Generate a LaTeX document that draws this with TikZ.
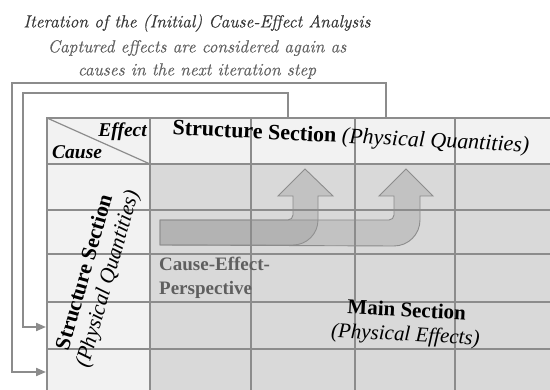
\documentclass[tikz,border=0pt]{standalone}
\usepackage{fontspec}
\setmainfont{Liberation Serif}
\newfontfamily\titlefont[FakeBold=0.5]{Latin Modern Roman}
\usetikzlibrary{arrows.meta}
\definecolor{hdr}{HTML}{F2F2F2}
\definecolor{body}{HTML}{D9D9D9}
\definecolor{grid}{HTML}{8C8C8C}
\definecolor{loop}{HTML}{8C8C8C}
\definecolor{persp}{HTML}{5F5F5F}
\begin{document}
\begin{tikzpicture}[x=1pt,y=-1pt,
  gridline/.style={draw=grid,line width=1.2pt},
  loopline/.style={draw=loop,line width=2pt,-{Triangle[length=10pt,width=8pt]}},
  bigarrow/.style={draw=black!45,line width=0.9pt,fill=black!40,fill opacity=0.35},
  titletxt/.style={font=\titlefont\itshape\fontsize{17.5}{20}\selectfont,inner sep=0pt},
]
\useasboundingbox (0,0) rectangle (550,390);
\begin{scope}
\clip (0,0) rectangle (550,390);
% fills
\fill[hdr] (47,118) rectangle (560,164);
\fill[hdr] (47,164) rectangle (150,400);
\fill[body] (150,164) rectangle (560,400);
% big arrows
\draw[bigarrow] (160,245) -- (160,220) -- (288,220) arc[start angle=90,end angle=0,radius=5]
  -- (293,196) -- (278,196) -- (305,169) -- (333,196) -- (318,196) -- (318,220)
  arc[start angle=0,end angle=90,radius=25] -- cycle;
\draw[bigarrow] (160,245) -- (160,220) -- (389,220) arc[start angle=90,end angle=0,radius=5]
  -- (394,196) -- (379,196) -- (406,169) -- (433,196) -- (420,196) -- (420,220)
  arc[start angle=0,end angle=90,radius=26] -- cycle;
% grid
\foreach \x in {150,251,355,455} \draw[gridline] (\x,118) -- (\x,400);
\foreach \y in {164,210,254,302,349} \draw[gridline] (47,\y) -- (560,\y);
\draw[gridline] (560,118) -- (47,118) -- (47,400);
\draw[gridline] (47,118) -- (150,164);
\end{scope}
% corner labels
\node[font=\bfseries\itshape\fontsize{19.5}{21}\selectfont,anchor=base east,inner sep=0pt] (eff) at (147,137) {Effect};
\node[font=\bfseries\itshape\fontsize{19.5}{21}\selectfont,anchor=base west,inner sep=0pt] (cau) at (52,159) {Cause};
% header
\node[rotate=-2.8,inner sep=0pt] (hdrtxt) at (351,138) {\fontsize{22}{24}\selectfont\bfseries Structure Section \mdseries\itshape(Physical Quantities)};
% left column
\node[rotate=74,align=center,inner sep=0pt,font=\fontsize{21.5}{24}\selectfont] (lefttxt) at (97,276) {\bfseries Structure Section\\\itshape(Physical Quantities)};
% main
\node[rotate=-3,align=center,inner sep=0pt,font=\fontsize{21}{24}\selectfont] (maintxt) at (406,324) {\bfseries Main Section\\\itshape(Physical Effects)};
% perspective
\node[anchor=north west,align=left,inner sep=0pt,text=persp,font=\bfseries\fontsize{19}{23.5}\selectfont] (persp) at (159,257) {Cause-Effect-\\Perspective};
% loops
\coordinate (o1) at (386,118);
\coordinate (o2) at (46,372);
\coordinate (i1) at (288,118);
\coordinate (i2) at (46,327);
\draw[loopline] (o1) -- (386,83) -- (12,83) -- (12,372) -- (o2);
\draw[loopline] (i1) -- (288,93) -- (23,93) -- (23,327) -- (i2);
% title
\node[titletxt,text=black!78] (t1) at (197,23) {Iteration of the (Initial) Cause-Effect Analysis};
\node[titletxt,text=black!62] (t2) at (197,48) {Captured effects are considered again as};
\node[titletxt,text=black!62] (t3) at (197,71) {causes in the next iteration step};
\end{tikzpicture}
\end{document}
